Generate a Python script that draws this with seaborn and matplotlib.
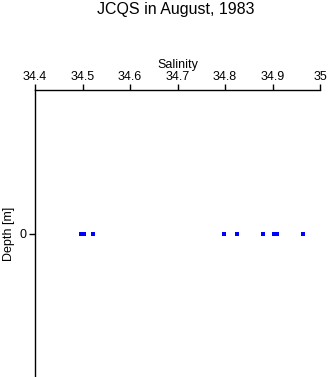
import matplotlib
matplotlib.use('Agg')
import matplotlib.pyplot as plt
import seaborn as sns
import pandas as pd

salinity = [34.497, 34.503, 34.522, 34.798, 34.825, 34.880, 34.903, 34.909, 34.964]
depth = [0, 0, 0, 0, 0, 0, 0, 0, 0]
xticks = [34.4, 34.5, 34.6, 34.7, 34.8, 34.9, 35.0]
xticklabels = ['34.4', '34.5', '34.6', '34.7', '34.8', '34.9', '35']

sns.set_style('white')
plt.rcParams['font.family'] = ['Liberation Sans', 'DejaVu Sans']
plt.rcParams['text.color'] = 'black'
plt.rcParams['axes.labelcolor'] = 'black'
plt.rcParams['xtick.color'] = 'black'
plt.rcParams['ytick.color'] = 'black'

df = pd.DataFrame({'Salinity': salinity, 'Depth': depth})

fig = plt.figure(figsize=(3.28, 3.77), dpi=100)
ax = fig.add_axes([35 / 328, 0.0, 285 / 328, 287 / 377])

sns.scatterplot(data=df, x='Salinity', y='Depth', ax=ax, color='#0000ff',
                marker='s', s=6, linewidth=0, legend=False)

ax.set_xlim(34.4, 35.0)
ax.set_ylim(1, -1)
ax.xaxis.tick_top()
ax.xaxis.set_label_position('top')
ax.set_xticks(xticks)
ax.set_xticklabels(xticklabels)
ax.set_yticks([0])
ax.set_yticklabels(['0'])
ax.tick_params(axis='both', direction='out', length=4, width=1, color='black',
               labelcolor='black', labelsize=9, pad=2, top=True, bottom=False, left=True)
ax.tick_params(axis='x', pad=1)
ax.set_xlabel('Salinity', fontsize=9, labelpad=2.5)
ax.set_ylabel('Depth [m]', fontsize=9, labelpad=3)

for side in ['right', 'bottom']:
    ax.spines[side].set_visible(False)
for side in ['top', 'left']:
    ax.spines[side].set_color('black')
    ax.spines[side].set_linewidth(1)

fig.text(0.537, 0.995, 'JCQS in August, 1983', ha='center', va='top', fontsize=11.5)

fig.savefig('out.png', dpi=100)
